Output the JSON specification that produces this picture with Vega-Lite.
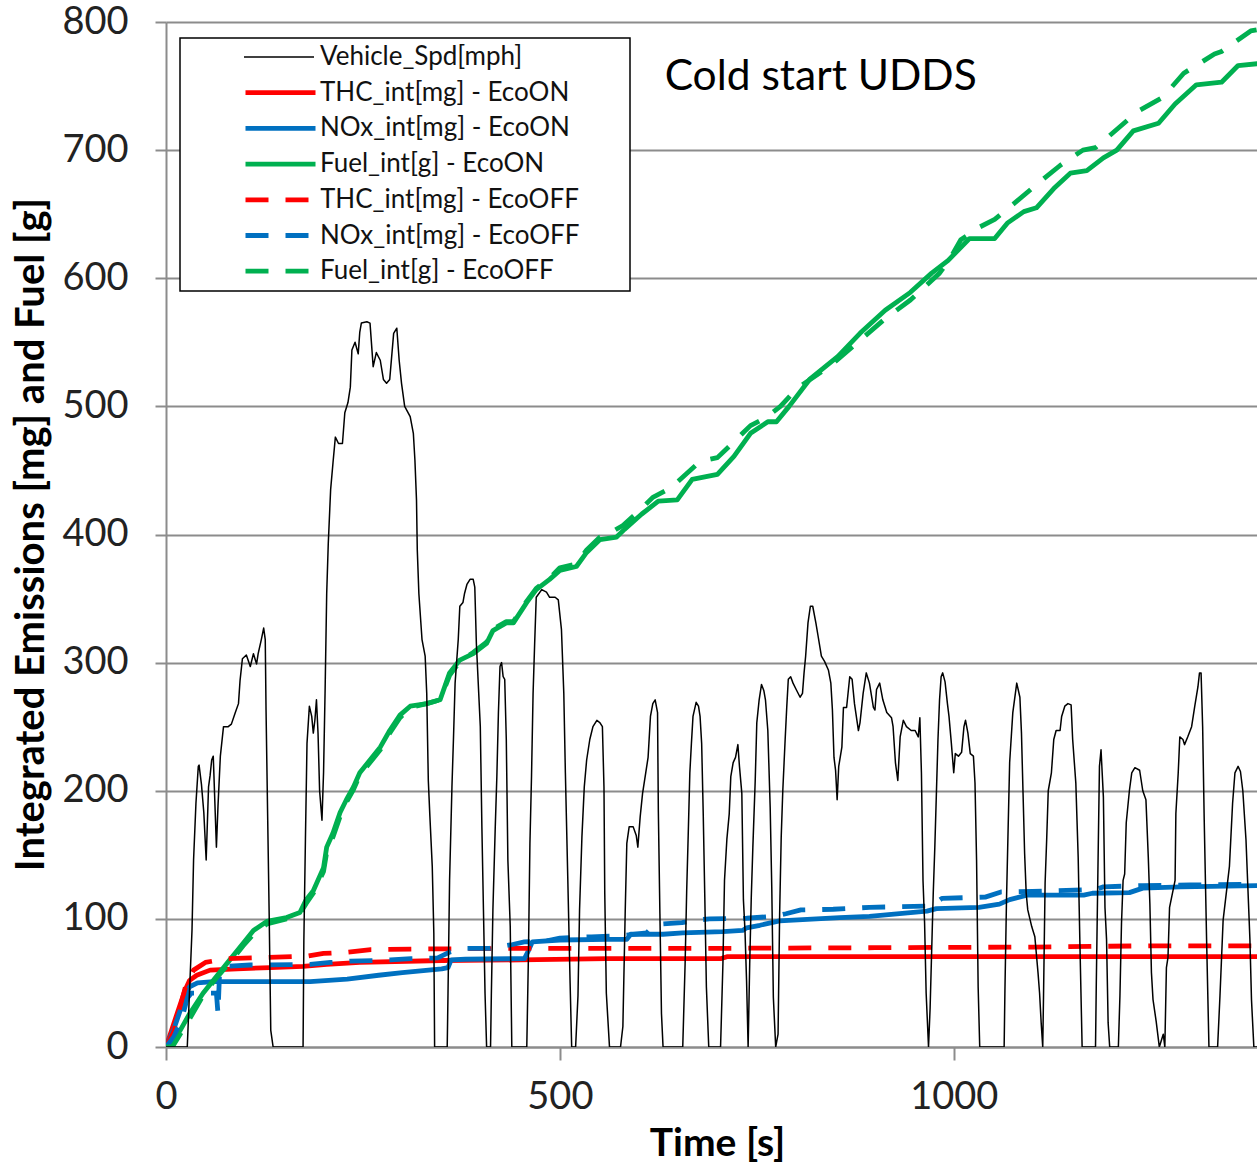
{
  "$schema": "https://vega.github.io/schema/vega-lite/v6.json",
  "autosize": {"type": "none"},
  "width": 1091,
  "height": 1025,
  "padding": {"left": 166, "top": 22, "right": 0, "bottom": 115},
  "background": "white",
  "config": {
    "view": {"stroke": null},
    "font": "Lato",
    "axis": {
      "domainColor": "#8c8c8c", "domainWidth": 2,
      "tickColor": "#8c8c8c", "tickWidth": 2,
      "labelFont": "Lato", "labelColor": "#222222", "labelFontSize": 38,
      "labelFlush": false, "labelOverlap": false,
      "titleFont": "Lato", "titleColor": "#000000", "titleFontWeight": "bold"
    },
    "legend": {
      "orient": "none",
      "strokeWidth": 1.5,
      "labelFont": "Lato", "labelFontSize": 26, "labelColor": "#111111", "labelLimit": 700,
      "symbolType": "stroke", "symbolSize": 4900, "clipHeight": 26, "rowPadding": 9.7
    }
  },
  "data": {"values": [
    {"s":"thc1","t":0,"v":0},{"s":"thc1","t":13,"v":24},{"s":"thc1","t":24,"v":44},{"s":"thc1","t":30,"v":52},{"s":"thc1","t":39,"v":56},{"s":"thc1","t":56,"v":60},{"s":"thc1","t":90,"v":61},{"s":"thc1","t":132,"v":62},{"s":"thc1","t":174,"v":63},{"s":"thc1","t":204,"v":64.5},{"s":"thc1","t":246,"v":66},{"s":"thc1","t":350,"v":67.5},{"s":"thc1","t":450,"v":68},{"s":"thc1","t":560,"v":69},{"s":"thc1","t":705,"v":69},{"s":"thc1","t":712,"v":70.5},{"s":"thc1","t":1395,"v":70.5},
    {"s":"nox1","t":0,"v":0},{"s":"nox1","t":10,"v":14},{"s":"nox1","t":20,"v":32},{"s":"nox1","t":26,"v":42},{"s":"nox1","t":30,"v":47},{"s":"nox1","t":40,"v":50},{"s":"nox1","t":60,"v":51},{"s":"nox1","t":183,"v":51},{"s":"nox1","t":230,"v":53},{"s":"nox1","t":270,"v":56},{"s":"nox1","t":300,"v":58},{"s":"nox1","t":350,"v":61},{"s":"nox1","t":358,"v":62},{"s":"nox1","t":362,"v":68},{"s":"nox1","t":380,"v":68.5},{"s":"nox1","t":455,"v":69},{"s":"nox1","t":460,"v":75},{"s":"nox1","t":465,"v":82},{"s":"nox1","t":500,"v":83.5},{"s":"nox1","t":560,"v":84},{"s":"nox1","t":585,"v":84},{"s":"nox1","t":590,"v":88},{"s":"nox1","t":631,"v":88},{"s":"nox1","t":656,"v":89},{"s":"nox1","t":707,"v":90},{"s":"nox1","t":732,"v":91},{"s":"nox1","t":737,"v":93},{"s":"nox1","t":754,"v":95},{"s":"nox1","t":779,"v":98.5},{"s":"nox1","t":855,"v":101},{"s":"nox1","t":893,"v":102},{"s":"nox1","t":966,"v":106},{"s":"nox1","t":978,"v":108},{"s":"nox1","t":1032,"v":109},{"s":"nox1","t":1058,"v":111.5},{"s":"nox1","t":1071,"v":115},{"s":"nox1","t":1093,"v":118.5},{"s":"nox1","t":1165,"v":118.5},{"s":"nox1","t":1176,"v":120},{"s":"nox1","t":1223,"v":120.5},{"s":"nox1","t":1240,"v":124},{"s":"nox1","t":1288,"v":125},{"s":"nox1","t":1395,"v":126},
    {"s":"fuel1","t":0,"v":0},{"s":"fuel1","t":5,"v":0},{"s":"fuel1","t":18,"v":13},{"s":"fuel1","t":30,"v":26},{"s":"fuel1","t":47,"v":42},{"s":"fuel1","t":64,"v":55},{"s":"fuel1","t":81,"v":68},{"s":"fuel1","t":98,"v":81},{"s":"fuel1","t":111,"v":91},{"s":"fuel1","t":128,"v":98},{"s":"fuel1","t":153,"v":101},{"s":"fuel1","t":170,"v":105},{"s":"fuel1","t":178,"v":115},{"s":"fuel1","t":187,"v":122},{"s":"fuel1","t":200,"v":140},{"s":"fuel1","t":204,"v":156},{"s":"fuel1","t":212,"v":167},{"s":"fuel1","t":221,"v":183},{"s":"fuel1","t":229,"v":193},{"s":"fuel1","t":238,"v":203},{"s":"fuel1","t":246,"v":214},{"s":"fuel1","t":259,"v":224},{"s":"fuel1","t":272,"v":234},{"s":"fuel1","t":284,"v":247},{"s":"fuel1","t":297,"v":259},{"s":"fuel1","t":310,"v":266},{"s":"fuel1","t":331,"v":268},{"s":"fuel1","t":348,"v":271},{"s":"fuel1","t":360,"v":292},{"s":"fuel1","t":373,"v":302},{"s":"fuel1","t":390,"v":307},{"s":"fuel1","t":407,"v":315},{"s":"fuel1","t":415,"v":325},{"s":"fuel1","t":432,"v":331},{"s":"fuel1","t":441,"v":331},{"s":"fuel1","t":458,"v":347},{"s":"fuel1","t":470,"v":357},{"s":"fuel1","t":487,"v":365},{"s":"fuel1","t":500,"v":372},{"s":"fuel1","t":521,"v":375},{"s":"fuel1","t":534,"v":386},{"s":"fuel1","t":551,"v":396},{"s":"fuel1","t":572,"v":398},{"s":"fuel1","t":582,"v":404},{"s":"fuel1","t":604,"v":416},{"s":"fuel1","t":625,"v":426},{"s":"fuel1","t":649,"v":427},{"s":"fuel1","t":668,"v":443},{"s":"fuel1","t":700,"v":447},{"s":"fuel1","t":721,"v":461},{"s":"fuel1","t":742,"v":479},{"s":"fuel1","t":764,"v":488},{"s":"fuel1","t":775,"v":488},{"s":"fuel1","t":791,"v":500},{"s":"fuel1","t":817,"v":521},{"s":"fuel1","t":853,"v":539},{"s":"fuel1","t":881,"v":557},{"s":"fuel1","t":913,"v":575},{"s":"fuel1","t":945,"v":589},{"s":"fuel1","t":972,"v":604},{"s":"fuel1","t":993,"v":614},{"s":"fuel1","t":1020,"v":631},{"s":"fuel1","t":1052,"v":631},{"s":"fuel1","t":1068,"v":643},{"s":"fuel1","t":1089,"v":652},{"s":"fuel1","t":1105,"v":655},{"s":"fuel1","t":1127,"v":670},{"s":"fuel1","t":1148,"v":682},{"s":"fuel1","t":1169,"v":684},{"s":"fuel1","t":1190,"v":694},{"s":"fuel1","t":1207,"v":700},{"s":"fuel1","t":1228,"v":715},{"s":"fuel1","t":1260,"v":721},{"s":"fuel1","t":1281,"v":736},{"s":"fuel1","t":1308,"v":751},{"s":"fuel1","t":1340,"v":753},{"s":"fuel1","t":1361,"v":766},{"s":"fuel1","t":1395,"v":768},
    {"s":"thc0","t":0,"v":0},{"s":"thc0","t":10,"v":12},{"s":"thc0","t":18,"v":31},{"s":"thc0","t":26,"v":50},{"s":"thc0","t":35,"v":60},{"s":"thc0","t":50,"v":66},{"s":"thc0","t":77,"v":69},{"s":"thc0","t":130,"v":70},{"s":"thc0","t":180,"v":71},{"s":"thc0","t":200,"v":73},{"s":"thc0","t":230,"v":74},{"s":"thc0","t":260,"v":76},{"s":"thc0","t":330,"v":76.5},{"s":"thc0","t":450,"v":77},{"s":"thc0","t":700,"v":77},{"s":"thc0","t":900,"v":77.5},{"s":"thc0","t":1100,"v":78},{"s":"thc0","t":1250,"v":79},{"s":"thc0","t":1395,"v":79},
    {"s":"nox0","t":0,"v":0},{"s":"nox0","t":10,"v":8},{"s":"nox0","t":20,"v":22},{"s":"nox0","t":27,"v":38},{"s":"nox0","t":32,"v":42},{"s":"nox0","t":64,"v":42},{"s":"nox0","t":66,"v":26},{"s":"nox0","t":68,"v":58},{"s":"nox0","t":75,"v":63},{"s":"nox0","t":107,"v":64},{"s":"nox0","t":183,"v":64.5},{"s":"nox0","t":209,"v":66},{"s":"nox0","t":234,"v":67},{"s":"nox0","t":264,"v":67.5},{"s":"nox0","t":285,"v":68},{"s":"nox0","t":311,"v":69},{"s":"nox0","t":345,"v":69.5},{"s":"nox0","t":360,"v":74},{"s":"nox0","t":377,"v":77},{"s":"nox0","t":411,"v":77},{"s":"nox0","t":440,"v":80},{"s":"nox0","t":455,"v":82},{"s":"nox0","t":480,"v":82.5},{"s":"nox0","t":500,"v":85},{"s":"nox0","t":540,"v":86},{"s":"nox0","t":580,"v":87},{"s":"nox0","t":610,"v":89},{"s":"nox0","t":618,"v":94},{"s":"nox0","t":631,"v":96},{"s":"nox0","t":655,"v":97},{"s":"nox0","t":673,"v":99},{"s":"nox0","t":690,"v":100},{"s":"nox0","t":737,"v":100.5},{"s":"nox0","t":772,"v":102},{"s":"nox0","t":787,"v":104},{"s":"nox0","t":806,"v":107},{"s":"nox0","t":847,"v":107.5},{"s":"nox0","t":893,"v":109},{"s":"nox0","t":972,"v":110},{"s":"nox0","t":985,"v":116},{"s":"nox0","t":1040,"v":117},{"s":"nox0","t":1060,"v":121},{"s":"nox0","t":1100,"v":121.5},{"s":"nox0","t":1130,"v":122},{"s":"nox0","t":1180,"v":123},{"s":"nox0","t":1190,"v":125},{"s":"nox0","t":1240,"v":126},{"s":"nox0","t":1300,"v":126.5},{"s":"nox0","t":1395,"v":127},
    {"s":"fuel0","t":0,"v":0},{"s":"fuel0","t":8,"v":0},{"s":"fuel0","t":18,"v":10},{"s":"fuel0","t":30,"v":22},{"s":"fuel0","t":47,"v":40},{"s":"fuel0","t":64,"v":54},{"s":"fuel0","t":81,"v":66},{"s":"fuel0","t":98,"v":79},{"s":"fuel0","t":111,"v":88},{"s":"fuel0","t":128,"v":96},{"s":"fuel0","t":153,"v":100},{"s":"fuel0","t":170,"v":104},{"s":"fuel0","t":178,"v":112},{"s":"fuel0","t":187,"v":120},{"s":"fuel0","t":200,"v":137},{"s":"fuel0","t":204,"v":152},{"s":"fuel0","t":212,"v":164},{"s":"fuel0","t":221,"v":180},{"s":"fuel0","t":229,"v":191},{"s":"fuel0","t":238,"v":201},{"s":"fuel0","t":246,"v":212},{"s":"fuel0","t":259,"v":222},{"s":"fuel0","t":272,"v":232},{"s":"fuel0","t":284,"v":245},{"s":"fuel0","t":297,"v":257},{"s":"fuel0","t":310,"v":265},{"s":"fuel0","t":331,"v":268},{"s":"fuel0","t":348,"v":271},{"s":"fuel0","t":360,"v":290},{"s":"fuel0","t":373,"v":301},{"s":"fuel0","t":390,"v":308},{"s":"fuel0","t":407,"v":316},{"s":"fuel0","t":415,"v":326},{"s":"fuel0","t":432,"v":332},{"s":"fuel0","t":441,"v":332},{"s":"fuel0","t":458,"v":348},{"s":"fuel0","t":470,"v":358},{"s":"fuel0","t":487,"v":366},{"s":"fuel0","t":500,"v":374},{"s":"fuel0","t":521,"v":377},{"s":"fuel0","t":534,"v":388},{"s":"fuel0","t":551,"v":398},{"s":"fuel0","t":563,"v":401},{"s":"fuel0","t":580,"v":407},{"s":"fuel0","t":600,"v":418},{"s":"fuel0","t":618,"v":429},{"s":"fuel0","t":640,"v":436},{"s":"fuel0","t":660,"v":447},{"s":"fuel0","t":678,"v":457},{"s":"fuel0","t":700,"v":460},{"s":"fuel0","t":722,"v":473},{"s":"fuel0","t":742,"v":485},{"s":"fuel0","t":761,"v":491},{"s":"fuel0","t":780,"v":500},{"s":"fuel0","t":801,"v":514},{"s":"fuel0","t":844,"v":532},{"s":"fuel0","t":878,"v":550},{"s":"fuel0","t":912,"v":568},{"s":"fuel0","t":945,"v":583},{"s":"fuel0","t":982,"v":604},{"s":"fuel0","t":995,"v":615},{"s":"fuel0","t":1009,"v":630},{"s":"fuel0","t":1033,"v":640},{"s":"fuel0","t":1052,"v":646},{"s":"fuel0","t":1076,"v":658},{"s":"fuel0","t":1105,"v":673},{"s":"fuel0","t":1135,"v":688},{"s":"fuel0","t":1164,"v":700},{"s":"fuel0","t":1180,"v":702},{"s":"fuel0","t":1201,"v":713},{"s":"fuel0","t":1233,"v":730},{"s":"fuel0","t":1265,"v":741},{"s":"fuel0","t":1292,"v":760},{"s":"fuel0","t":1331,"v":775},{"s":"fuel0","t":1340,"v":777},{"s":"fuel0","t":1377,"v":793},{"s":"fuel0","t":1395,"v":795},
    {"s":"spd","t":0,"v":0},{"s":"spd","t":27,"v":0},{"s":"spd","t":33,"v":91},{"s":"spd","t":35,"v":146},{"s":"spd","t":38,"v":190},{"s":"spd","t":41,"v":219},{"s":"spd","t":42,"v":220},{"s":"spd","t":45,"v":205},{"s":"spd","t":48,"v":183},{"s":"spd","t":51,"v":146},{"s":"spd","t":54,"v":203},{"s":"spd","t":56,"v":212},{"s":"spd","t":58,"v":224},{"s":"spd","t":60,"v":227},{"s":"spd","t":64,"v":156},{"s":"spd","t":66,"v":188},{"s":"spd","t":69,"v":227},{"s":"spd","t":73,"v":250},{"s":"spd","t":79,"v":250},{"s":"spd","t":83,"v":252},{"s":"spd","t":88,"v":261},{"s":"spd","t":92,"v":268},{"s":"spd","t":94,"v":286},{"s":"spd","t":97,"v":303},{"s":"spd","t":102,"v":306},{"s":"spd","t":107,"v":297},{"s":"spd","t":111,"v":307},{"s":"spd","t":115,"v":299},{"s":"spd","t":117,"v":307},{"s":"spd","t":121,"v":318},{"s":"spd","t":124,"v":327},{"s":"spd","t":126,"v":318},{"s":"spd","t":127,"v":263},{"s":"spd","t":129,"v":182},{"s":"spd","t":131,"v":102},{"s":"spd","t":133,"v":13},{"s":"spd","t":136,"v":0},{"s":"spd","t":174,"v":0},{"s":"spd","t":175,"v":83},{"s":"spd","t":177,"v":162},{"s":"spd","t":179,"v":237},{"s":"spd","t":182,"v":266},{"s":"spd","t":185,"v":258},{"s":"spd","t":187,"v":245},{"s":"spd","t":189,"v":255},{"s":"spd","t":191,"v":271},{"s":"spd","t":193,"v":245},{"s":"spd","t":195,"v":200},{"s":"spd","t":198,"v":177},{"s":"spd","t":200,"v":214},{"s":"spd","t":202,"v":279},{"s":"spd","t":204,"v":354},{"s":"spd","t":206,"v":393},{"s":"spd","t":209,"v":435},{"s":"spd","t":212,"v":456},{"s":"spd","t":215,"v":476},{"s":"spd","t":219,"v":471},{"s":"spd","t":224,"v":471},{"s":"spd","t":227,"v":495},{"s":"spd","t":231,"v":503},{"s":"spd","t":234,"v":515},{"s":"spd","t":236,"v":544},{"s":"spd","t":240,"v":550},{"s":"spd","t":244,"v":541},{"s":"spd","t":246,"v":558},{"s":"spd","t":248,"v":565},{"s":"spd","t":255,"v":566},{"s":"spd","t":259,"v":565},{"s":"spd","t":263,"v":531},{"s":"spd","t":267,"v":542},{"s":"spd","t":272,"v":536},{"s":"spd","t":276,"v":521},{"s":"spd","t":280,"v":518},{"s":"spd","t":284,"v":521},{"s":"spd","t":289,"v":557},{"s":"spd","t":293,"v":561},{"s":"spd","t":296,"v":536},{"s":"spd","t":299,"v":518},{"s":"spd","t":303,"v":500},{"s":"spd","t":310,"v":492},{"s":"spd","t":314,"v":479},{"s":"spd","t":316,"v":458},{"s":"spd","t":318,"v":427},{"s":"spd","t":319,"v":388},{"s":"spd","t":321,"v":354},{"s":"spd","t":325,"v":318},{"s":"spd","t":329,"v":305},{"s":"spd","t":331,"v":276},{"s":"spd","t":333,"v":208},{"s":"spd","t":335,"v":180},{"s":"spd","t":338,"v":141},{"s":"spd","t":340,"v":89},{"s":"spd","t":341,"v":0},{"s":"spd","t":357,"v":0},{"s":"spd","t":358,"v":42},{"s":"spd","t":360,"v":130},{"s":"spd","t":363,"v":203},{"s":"spd","t":365,"v":242},{"s":"spd","t":367,"v":284},{"s":"spd","t":371,"v":318},{"s":"spd","t":373,"v":344},{"s":"spd","t":377,"v":347},{"s":"spd","t":379,"v":354},{"s":"spd","t":382,"v":361},{"s":"spd","t":386,"v":365},{"s":"spd","t":390,"v":365},{"s":"spd","t":392,"v":359},{"s":"spd","t":394,"v":315},{"s":"spd","t":399,"v":250},{"s":"spd","t":401,"v":172},{"s":"spd","t":403,"v":107},{"s":"spd","t":405,"v":42},{"s":"spd","t":407,"v":0},{"s":"spd","t":412,"v":0},{"s":"spd","t":413,"v":40},{"s":"spd","t":415,"v":107},{"s":"spd","t":418,"v":172},{"s":"spd","t":420,"v":211},{"s":"spd","t":422,"v":261},{"s":"spd","t":424,"v":297},{"s":"spd","t":426,"v":300},{"s":"spd","t":428,"v":289},{"s":"spd","t":430,"v":287},{"s":"spd","t":432,"v":240},{"s":"spd","t":434,"v":146},{"s":"spd","t":437,"v":94},{"s":"spd","t":439,"v":0},{"s":"spd","t":458,"v":0},{"s":"spd","t":460,"v":68},{"s":"spd","t":462,"v":159},{"s":"spd","t":464,"v":211},{"s":"spd","t":466,"v":276},{"s":"spd","t":468,"v":315},{"s":"spd","t":470,"v":351},{"s":"spd","t":477,"v":357},{"s":"spd","t":483,"v":355},{"s":"spd","t":487,"v":351},{"s":"spd","t":494,"v":351},{"s":"spd","t":498,"v":349},{"s":"spd","t":502,"v":326},{"s":"spd","t":505,"v":276},{"s":"spd","t":507,"v":214},{"s":"spd","t":510,"v":133},{"s":"spd","t":513,"v":50},{"s":"spd","t":515,"v":0},{"s":"spd","t":520,"v":0},{"s":"spd","t":523,"v":40},{"s":"spd","t":525,"v":107},{"s":"spd","t":528,"v":164},{"s":"spd","t":531,"v":203},{"s":"spd","t":534,"v":224},{"s":"spd","t":538,"v":240},{"s":"spd","t":542,"v":250},{"s":"spd","t":547,"v":255},{"s":"spd","t":551,"v":253},{"s":"spd","t":554,"v":250},{"s":"spd","t":556,"v":203},{"s":"spd","t":557,"v":120},{"s":"spd","t":559,"v":42},{"s":"spd","t":563,"v":0},{"s":"spd","t":577,"v":0},{"s":"spd","t":580,"v":16},{"s":"spd","t":583,"v":107},{"s":"spd","t":585,"v":159},{"s":"spd","t":588,"v":172},{"s":"spd","t":593,"v":172},{"s":"spd","t":597,"v":165},{"s":"spd","t":599,"v":156},{"s":"spd","t":602,"v":180},{"s":"spd","t":605,"v":198},{"s":"spd","t":609,"v":214},{"s":"spd","t":612,"v":226},{"s":"spd","t":615,"v":258},{"s":"spd","t":618,"v":268},{"s":"spd","t":621,"v":271},{"s":"spd","t":624,"v":261},{"s":"spd","t":625,"v":185},{"s":"spd","t":627,"v":104},{"s":"spd","t":629,"v":26},{"s":"spd","t":631,"v":0},{"s":"spd","t":656,"v":0},{"s":"spd","t":659,"v":65},{"s":"spd","t":661,"v":122},{"s":"spd","t":663,"v":167},{"s":"spd","t":665,"v":214},{"s":"spd","t":667,"v":237},{"s":"spd","t":669,"v":258},{"s":"spd","t":673,"v":269},{"s":"spd","t":676,"v":266},{"s":"spd","t":678,"v":258},{"s":"spd","t":680,"v":237},{"s":"spd","t":682,"v":182},{"s":"spd","t":684,"v":117},{"s":"spd","t":686,"v":47},{"s":"spd","t":689,"v":0},{"s":"spd","t":704,"v":0},{"s":"spd","t":707,"v":65},{"s":"spd","t":709,"v":130},{"s":"spd","t":712,"v":162},{"s":"spd","t":715,"v":182},{"s":"spd","t":717,"v":211},{"s":"spd","t":720,"v":222},{"s":"spd","t":723,"v":226},{"s":"spd","t":726,"v":236},{"s":"spd","t":728,"v":219},{"s":"spd","t":731,"v":198},{"s":"spd","t":733,"v":115},{"s":"spd","t":735,"v":91},{"s":"spd","t":737,"v":52},{"s":"spd","t":739,"v":0},{"s":"spd","t":741,"v":65},{"s":"spd","t":743,"v":117},{"s":"spd","t":745,"v":156},{"s":"spd","t":748,"v":208},{"s":"spd","t":750,"v":253},{"s":"spd","t":753,"v":271},{"s":"spd","t":756,"v":283},{"s":"spd","t":759,"v":278},{"s":"spd","t":761,"v":271},{"s":"spd","t":764,"v":247},{"s":"spd","t":767,"v":187},{"s":"spd","t":769,"v":125},{"s":"spd","t":771,"v":39},{"s":"spd","t":774,"v":0},{"s":"spd","t":777,"v":10},{"s":"spd","t":779,"v":104},{"s":"spd","t":781,"v":164},{"s":"spd","t":783,"v":200},{"s":"spd","t":786,"v":240},{"s":"spd","t":788,"v":265},{"s":"spd","t":790,"v":287},{"s":"spd","t":793,"v":289},{"s":"spd","t":796,"v":284},{"s":"spd","t":800,"v":279},{"s":"spd","t":805,"v":273},{"s":"spd","t":808,"v":276},{"s":"spd","t":810,"v":292},{"s":"spd","t":812,"v":305},{"s":"spd","t":815,"v":331},{"s":"spd","t":818,"v":344},{"s":"spd","t":821,"v":344},{"s":"spd","t":825,"v":331},{"s":"spd","t":828,"v":320},{"s":"spd","t":832,"v":305},{"s":"spd","t":836,"v":301},{"s":"spd","t":841,"v":294},{"s":"spd","t":844,"v":284},{"s":"spd","t":846,"v":263},{"s":"spd","t":848,"v":226},{"s":"spd","t":850,"v":216},{"s":"spd","t":852,"v":193},{"s":"spd","t":854,"v":219},{"s":"spd","t":858,"v":234},{"s":"spd","t":860,"v":265},{"s":"spd","t":864,"v":265},{"s":"spd","t":868,"v":289},{"s":"spd","t":871,"v":287},{"s":"spd","t":874,"v":268},{"s":"spd","t":879,"v":247},{"s":"spd","t":881,"v":253},{"s":"spd","t":885,"v":276},{"s":"spd","t":889,"v":292},{"s":"spd","t":893,"v":284},{"s":"spd","t":898,"v":265},{"s":"spd","t":900,"v":263},{"s":"spd","t":902,"v":279},{"s":"spd","t":906,"v":284},{"s":"spd","t":910,"v":271},{"s":"spd","t":915,"v":261},{"s":"spd","t":921,"v":257},{"s":"spd","t":923,"v":250},{"s":"spd","t":926,"v":222},{"s":"spd","t":929,"v":208},{"s":"spd","t":932,"v":242},{"s":"spd","t":936,"v":255},{"s":"spd","t":940,"v":250},{"s":"spd","t":946,"v":247},{"s":"spd","t":951,"v":247},{"s":"spd","t":955,"v":242},{"s":"spd","t":957,"v":257},{"s":"spd","t":959,"v":214},{"s":"spd","t":961,"v":130},{"s":"spd","t":963,"v":97},{"s":"spd","t":965,"v":42},{"s":"spd","t":968,"v":0},{"s":"spd","t":970,"v":30},{"s":"spd","t":974,"v":120},{"s":"spd","t":976,"v":156},{"s":"spd","t":978,"v":198},{"s":"spd","t":980,"v":240},{"s":"spd","t":982,"v":271},{"s":"spd","t":984,"v":289},{"s":"spd","t":986,"v":292},{"s":"spd","t":989,"v":285},{"s":"spd","t":992,"v":268},{"s":"spd","t":994,"v":258},{"s":"spd","t":997,"v":237},{"s":"spd","t":1000,"v":214},{"s":"spd","t":1002,"v":229},{"s":"spd","t":1006,"v":227},{"s":"spd","t":1010,"v":230},{"s":"spd","t":1013,"v":250},{"s":"spd","t":1015,"v":255},{"s":"spd","t":1018,"v":245},{"s":"spd","t":1021,"v":229},{"s":"spd","t":1025,"v":227},{"s":"spd","t":1027,"v":206},{"s":"spd","t":1029,"v":146},{"s":"spd","t":1031,"v":47},{"s":"spd","t":1033,"v":0},{"s":"spd","t":1064,"v":0},{"s":"spd","t":1065,"v":44},{"s":"spd","t":1067,"v":115},{"s":"spd","t":1069,"v":169},{"s":"spd","t":1071,"v":222},{"s":"spd","t":1075,"v":261},{"s":"spd","t":1080,"v":284},{"s":"spd","t":1084,"v":273},{"s":"spd","t":1086,"v":245},{"s":"spd","t":1088,"v":198},{"s":"spd","t":1090,"v":151},{"s":"spd","t":1092,"v":120},{"s":"spd","t":1094,"v":107},{"s":"spd","t":1099,"v":94},{"s":"spd","t":1103,"v":86},{"s":"spd","t":1107,"v":58},{"s":"spd","t":1109,"v":42},{"s":"spd","t":1111,"v":19},{"s":"spd","t":1113,"v":0},{"s":"spd","t":1114,"v":40},{"s":"spd","t":1116,"v":128},{"s":"spd","t":1118,"v":162},{"s":"spd","t":1120,"v":200},{"s":"spd","t":1124,"v":214},{"s":"spd","t":1127,"v":240},{"s":"spd","t":1130,"v":247},{"s":"spd","t":1135,"v":247},{"s":"spd","t":1137,"v":258},{"s":"spd","t":1141,"v":266},{"s":"spd","t":1145,"v":268},{"s":"spd","t":1149,"v":267},{"s":"spd","t":1151,"v":240},{"s":"spd","t":1155,"v":206},{"s":"spd","t":1158,"v":148},{"s":"spd","t":1160,"v":86},{"s":"spd","t":1163,"v":0},{"s":"spd","t":1180,"v":0},{"s":"spd","t":1181,"v":50},{"s":"spd","t":1183,"v":136},{"s":"spd","t":1185,"v":219},{"s":"spd","t":1187,"v":232},{"s":"spd","t":1190,"v":195},{"s":"spd","t":1192,"v":109},{"s":"spd","t":1194,"v":84},{"s":"spd","t":1196,"v":19},{"s":"spd","t":1198,"v":0},{"s":"spd","t":1209,"v":0},{"s":"spd","t":1211,"v":40},{"s":"spd","t":1213,"v":97},{"s":"spd","t":1215,"v":130},{"s":"spd","t":1217,"v":135},{"s":"spd","t":1219,"v":175},{"s":"spd","t":1223,"v":200},{"s":"spd","t":1226,"v":214},{"s":"spd","t":1230,"v":218},{"s":"spd","t":1236,"v":216},{"s":"spd","t":1240,"v":200},{"s":"spd","t":1244,"v":193},{"s":"spd","t":1247,"v":148},{"s":"spd","t":1249,"v":112},{"s":"spd","t":1251,"v":58},{"s":"spd","t":1253,"v":37},{"s":"spd","t":1257,"v":20},{"s":"spd","t":1261,"v":0},{"s":"spd","t":1266,"v":10},{"s":"spd","t":1268,"v":0},{"s":"spd","t":1270,"v":62},{"s":"spd","t":1272,"v":70},{"s":"spd","t":1274,"v":109},{"s":"spd","t":1281,"v":130},{"s":"spd","t":1282,"v":182},{"s":"spd","t":1285,"v":214},{"s":"spd","t":1287,"v":242},{"s":"spd","t":1291,"v":240},{"s":"spd","t":1293,"v":236},{"s":"spd","t":1297,"v":242},{"s":"spd","t":1302,"v":250},{"s":"spd","t":1306,"v":266},{"s":"spd","t":1310,"v":281},{"s":"spd","t":1312,"v":292},{"s":"spd","t":1314,"v":292},{"s":"spd","t":1316,"v":250},{"s":"spd","t":1318,"v":177},{"s":"spd","t":1321,"v":84},{"s":"spd","t":1324,"v":0},{"s":"spd","t":1335,"v":0},{"s":"spd","t":1338,"v":40},{"s":"spd","t":1342,"v":99},{"s":"spd","t":1350,"v":141},{"s":"spd","t":1354,"v":190},{"s":"spd","t":1357,"v":214},{"s":"spd","t":1361,"v":219},{"s":"spd","t":1364,"v":215},{"s":"spd","t":1367,"v":200},{"s":"spd","t":1371,"v":162},{"s":"spd","t":1376,"v":84},{"s":"spd","t":1378,"v":37},{"s":"spd","t":1381,"v":0},{"s":"spd","t":1395,"v":0}
  ]},
  "layer": [
    {
      "transform": [{"filter": "datum.s === 'thc1' || datum.s === 'nox1' || datum.s === 'fuel1'"}],
      "mark": {"type": "line", "clip": true, "strokeJoin": "round", "strokeWidth": 4.8},
      "encoding": {
        "x": {"field": "t", "type": "quantitative", "title": "Time [s]",
          "scale": {"domain": [0, 1385], "nice": false, "zero": false},
          "axis": {"values": [0, 500, 1000], "format": "d", "grid": false, "tickSize": 13, "labelPadding": 18,
                   "titleFontSize": 39, "titleX": 551, "titleY": 96, "titleBaseline": "middle"}},
        "y": {"field": "v", "type": "quantitative", "title": "Integrated Emissions [mg] and Fuel [g]",
          "scale": {"domain": [0, 800], "nice": false},
          "axis": {"values": [0, 100, 200, 300, 400, 500, 600, 700, 800], "grid": true,
                   "gridColor": "#8c8c8c", "gridWidth": 2, "tickSize": 11, "labelPadding": 27,
                   "titleFontSize": 40, "titleX": -135, "titleY": 512, "titleBaseline": "middle", "titleAngle": 270}},
        "color": {"field": "s", "type": "nominal", "title": null,
          "scale": {"domain": ["spd", "thc1", "nox1", "fuel1", "thc0", "nox0", "fuel0"],
                    "range": ["#000000", "#ff0000", "#0070c0", "#00b050", "#ff0000", "#0070c0", "#00b050"]},
          "legend": {
            "legendX": 14, "legendY": 16, "padding": 6, "symbolOffset": 57, "labelOffset": 2,
            "fillColor": "white", "strokeColor": "#000000", "symbolStrokeWidth": 4.8,
            "labelExpr": "(datum.label == 'spd' ? 'Vehicle_Spd[mph]' : datum.label == 'thc1' ? 'THC_int[mg] - EcoON' : datum.label == 'nox1' ? 'NOx_int[mg] - EcoON' : datum.label == 'fuel1' ? 'Fuel_int[g] - EcoON' : datum.label == 'thc0' ? 'THC_int[mg] - EcoOFF' : datum.label == 'nox0' ? 'NOx_int[mg] - EcoOFF' : 'Fuel_int[g] - EcoOFF') + '\u2800\u2009\u2009\u2800'"
          }}
      }
    },
    {
      "transform": [{"filter": "datum.s === 'thc0' || datum.s === 'nox0' || datum.s === 'fuel0'"}],
      "mark": {"type": "line", "clip": true, "strokeJoin": "round", "strokeCap": "butt", "strokeWidth": 4.8, "strokeDash": [23, 17]},
      "encoding": {
        "x": {"field": "t", "type": "quantitative"},
        "y": {"field": "v", "type": "quantitative"},
        "stroke": {"field": "s", "type": "nominal", "title": null,
          "scale": {"domain": ["thc0", "nox0", "fuel0"], "range": ["#ff0000", "#0070c0", "#00b050"]},
          "legend": {
            "legendX": 15.5, "legendY": 162.8, "padding": 2, "symbolOffset": 59.5, "labelOffset": 0,
            "fillColor": "white", "symbolStrokeWidth": 4.8, "symbolDash": [23, 17],
            "labelExpr": "''"
          }}
      }
    },
    {
      "transform": [{"filter": "datum.s === 'spd'"}],
      "mark": {"type": "line", "clip": true, "strokeJoin": "round"},
      "encoding": {
        "x": {"field": "t", "type": "quantitative"},
        "y": {"field": "v", "type": "quantitative"},
        "color": {"field": "s", "type": "nominal", "title": null},
        "strokeWidth": {"field": "s", "type": "nominal", "title": null,
          "scale": {"type": "ordinal", "domain": ["spd"], "range": [1.5]},
          "legend": {
            "legendX": 15.5, "legendY": 20, "padding": 2, "symbolOffset": 59.5, "labelOffset": 0,
            "fillColor": "white", "symbolStrokeColor": "#000000",
            "labelExpr": "''"
          }}
      }
    },
    {
      "data": {"values": [{"label": "Cold start UDDS"}]},
      "mark": {"type": "text", "align": "left", "baseline": "middle", "font": "Lato", "fontSize": 42.5, "color": "#000000"},
      "encoding": {
        "x": {"datum": 633, "type": "quantitative"},
        "y": {"datum": 757, "type": "quantitative"},
        "text": {"field": "label"}
      }
    }
  ]
}
